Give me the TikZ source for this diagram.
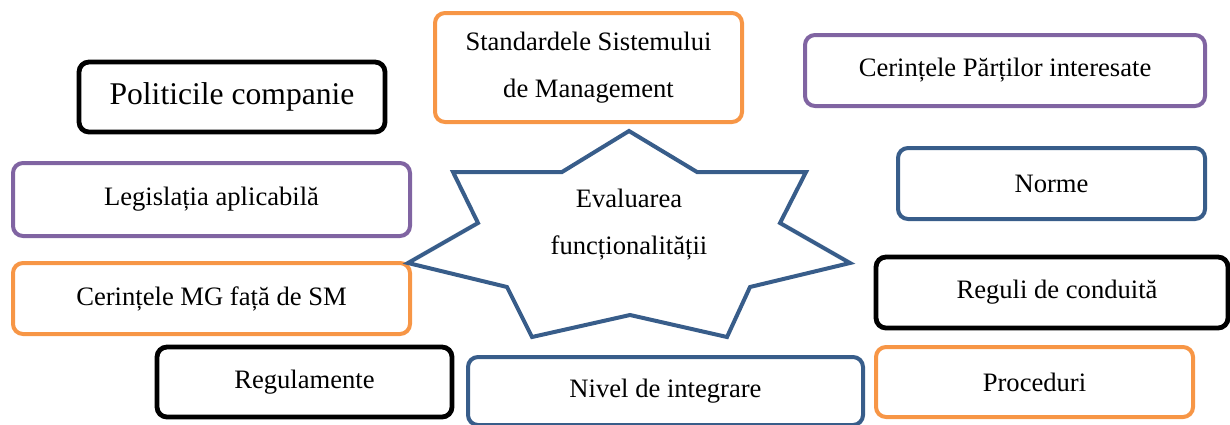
\documentclass[tikz,border=0pt]{standalone}
\usepackage{fontspec}
\setmainfont{Liberation Serif}
\definecolor{corange}{HTML}{F79646}
\definecolor{cpurple}{HTML}{8064A2}
\definecolor{cblue}{HTML}{385D8A}
\tikzset{
  box/.style={draw, rounded corners=5pt, line width=2pt, inner sep=0pt, align=center,
    font=\fontsize{13.3}{23.5}\selectfont},
  obox/.style={box, draw=corange},
  pbox/.style={box, draw=cpurple},
  bbox/.style={box, draw=cblue},
  kbox/.style={box, draw=black, line width=2.4pt},
}
\begin{document}
\begin{tikzpicture}[x=0.5pt,y=-0.5pt]
\useasboundingbox (0,0) rectangle (1230,424);
% boxes
\node[kbox, minimum width=153pt, minimum height=35pt, font=\fontsize{15.8}{19}\selectfont] (pol) at (232,97) {Politicile companie};
\node[pbox, minimum width=198.5pt, minimum height=36.5pt] (leg) at (211.5,199.5) {Legislația aplicabilă};
\node[obox, minimum width=153.5pt, minimum height=54.5pt] (std) at (588.5,67.5) {Standardele Sistemului\\de Management};
\node[pbox, minimum width=200pt, minimum height=35.5pt] (cpi) at (1005,70.5) {Cerințele Părților interesate};
\node[bbox, minimum width=153.5pt, minimum height=35.5pt] (nor) at (1051.5,183.5) {Norme};
\node[obox, minimum width=198.5pt, minimum height=35.5pt] (cmg) at (211.5,298.5) {Cerințele MG față de SM};
\node[kbox, minimum width=147.5pt, minimum height=35pt] (reg) at (304.5,382) {Regulamente};
\node[bbox, minimum width=197.5pt, minimum height=34pt] (niv) at (665.5,391) {Nivel de integrare};
\node[kbox, minimum width=176pt, minimum height=35.5pt] (rdc) at (1052,292.5) {\hspace*{5pt}Reguli de conduită};
\node[obox, minimum width=158.5pt, minimum height=35pt] (pro) at (1034.5,382) {Proceduri};
% star
\draw[cblue, line width=2pt, line join=miter]
  (629,131) -- (697,172) -- (806,172) -- (780,223) -- (850,263) -- (750,287)
  -- (727,337) -- (630,315) -- (532,337) -- (507,287) -- (408,263) -- (478,223)
  -- (453,172) -- (562,172) -- cycle;
\node[align=center, inner sep=0pt, font=\fontsize{13.3}{23.5}\selectfont] (eval) at (629,225) {Evaluarea\\funcționalității};
\end{tikzpicture}
\end{document}
